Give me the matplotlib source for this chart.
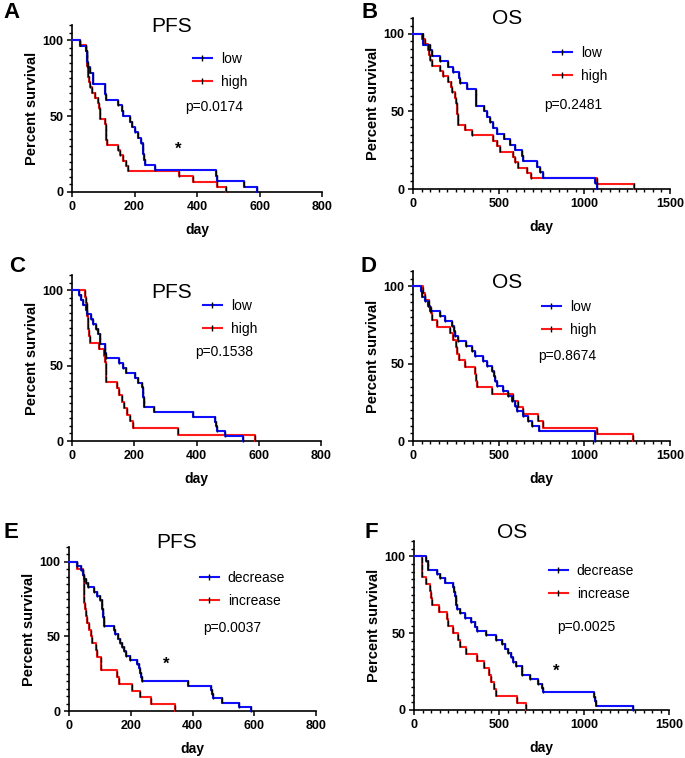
import matplotlib

matplotlib.use("Agg")

import matplotlib.pyplot as plt
from matplotlib.lines import Line2D
from matplotlib.ticker import MultipleLocator

plt.rcParams["font.family"] = ["Liberation Sans", "DejaVu Sans"]

BLUE = "#1010FF"
RED = "#FF1A1A"

# ---- data: event times (day) and survival (%) after each event ----
# A: PFS low / high
a_low_t = [26, 45, 47, 49, 50, 57, 66, 68, 104, 106, 108, 148, 160, 164, 186, 193, 202,
           212, 221, 226, 228, 230, 232, 266, 462, 465, 550, 592]
a_low_s = [96.4, 92.9, 89.3, 85.7, 82.1, 78.6, 75.0, 71.4, 67.9, 64.3, 60.7, 57.1, 53.6,
           50.0, 46.4, 42.9, 39.3, 35.7, 32.1, 28.6, 25.0, 21.4, 17.9, 14.3, 10.7, 7.1, 3.6, 0]
a_high_t = [26, 45, 47, 48, 49, 50, 52, 55, 58, 63, 75, 82, 86, 88, 90, 106, 108, 109, 110,
            112, 146, 155, 164, 172, 180, 342, 386, 464, 493]
a_high_s = [96.6, 93.1, 89.7, 86.2, 82.8, 79.3, 75.9, 72.4, 69.0, 65.5, 62.1, 58.6, 55.2,
            51.7, 48.3, 44.8, 41.4, 37.9, 34.5, 31.0, 27.6, 24.1, 20.7, 17.2, 13.8, 10.3,
            6.9, 3.4, 0]

# B: OS low / high
b_low_t = [60, 61, 99, 109, 158, 206, 235, 270, 274, 313, 365, 367, 368, 414, 430, 449, 469,
           488, 531, 566, 595, 638, 640, 722, 741, 760, 1062, 1072]
b_low_s = [96.4, 92.9, 89.3, 85.7, 82.1, 78.6, 75.0, 71.4, 67.9, 64.3, 60.7, 57.1, 53.6,
           50.0, 46.4, 42.9, 39.3, 35.7, 32.1, 28.6, 25.0, 21.4, 17.9, 14.3, 10.7, 7.1, 3.6, 0]
b_high_t = [50, 70, 89, 96, 99, 109, 158, 177, 206, 220, 226, 245, 250, 255, 259, 262, 265,
            303, 342, 469, 488, 508, 582, 596, 613, 664, 687, 1072, 1292]
b_high_s = [96.6, 93.1, 89.7, 86.2, 82.8, 79.3, 75.9, 72.4, 69.0, 65.5, 62.1, 58.6, 55.2,
            51.7, 48.3, 44.8, 41.4, 37.9, 34.5, 31.0, 27.6, 24.1, 20.7, 17.2, 13.8, 10.3,
            6.9, 3.4, 0]

# C: PFS low / high
c_low_t = [24, 30, 36, 45, 47, 60, 69, 77, 85, 90, 91, 105, 107, 109, 152, 163, 173, 202,
           213, 224, 227, 229, 230, 232, 263, 388, 460, 462, 465, 491, 550]
c_low_s = [96.8, 93.5, 90.3, 87.1, 83.9, 80.6, 77.4, 74.2, 71.0, 67.7, 64.5, 61.3, 58.1,
           54.8, 51.6, 48.4, 45.2, 41.9, 38.7, 35.5, 32.3, 29.0, 25.8, 22.6, 19.4, 16.1,
           12.9, 9.7, 6.5, 3.2, 0]
c_high_t = [42, 45, 47, 48, 50, 52, 55, 58, 87, 103, 106, 108, 109, 110, 143, 152, 160, 168,
            178, 186, 197, 342, 588]
c_high_s = [95.7, 91.3, 87.0, 82.6, 78.3, 73.9, 69.6, 65.2, 60.9, 56.5, 52.2, 47.8, 43.5,
            39.1, 34.8, 30.4, 26.1, 21.7, 17.4, 13.0, 8.7, 4.3, 0]

# D: OS low / high
d_low_t = [45, 51, 70, 89, 99, 158, 187, 226, 240, 245, 265, 309, 342, 362, 410, 430, 459,
           474, 479, 488, 527, 556, 576, 595, 605, 644, 673, 693, 737, 1062, 1065]
d_low_s = [96.8, 93.5, 90.3, 87.1, 83.9, 80.6, 77.4, 74.2, 71.0, 67.7, 64.5, 61.3, 58.1,
           54.8, 51.6, 48.4, 45.2, 41.9, 38.7, 35.5, 32.3, 29.0, 25.8, 22.6, 19.4, 16.1,
           12.9, 9.7, 6.5, 3.2, 0]
d_high_t = [56, 70, 95, 107, 109, 138, 216, 235, 250, 255, 270, 303, 362, 370, 372, 459, 586,
            615, 644, 731, 760, 1072, 1286]
d_high_s = [95.7, 91.3, 87.0, 82.6, 78.3, 73.9, 69.6, 65.2, 60.9, 56.5, 52.2, 47.8, 43.5,
            39.1, 34.8, 30.4, 26.1, 21.7, 17.4, 13.0, 8.7, 4.3, 0]

# E: PFS decrease / increase
e_dec_t = [26, 40, 46, 48, 54, 62, 80, 91, 99, 106, 108, 110, 111, 112, 113, 146, 150, 159,
           166, 172, 177, 186, 197, 221, 226, 229, 232, 235, 386, 460, 462, 465, 494, 551, 591]
e_dec_s = [97.1, 94.3, 91.4, 88.6, 85.7, 82.9, 80.0, 77.1, 74.3, 71.4, 68.6, 65.7, 62.9,
           60.0, 57.1, 54.3, 51.4, 48.6, 45.7, 42.9, 40.0, 37.1, 34.3, 31.4, 28.6, 25.7,
           22.9, 20.0, 17.1, 14.3, 11.4, 8.6, 5.7, 2.9, 0]
e_inc_t = [26, 45, 47, 48, 49, 50, 52, 54, 58, 65, 72, 76, 86, 91, 103, 105, 154, 162, 205,
           229, 267, 343]
e_inc_s = [95.5, 90.9, 86.4, 81.8, 77.3, 72.7, 68.2, 63.6, 59.1, 54.5, 50.0, 45.5, 40.9,
           36.4, 31.8, 27.3, 22.7, 18.2, 13.6, 9.1, 4.5, 0]

# F: OS decrease / increase
f_dec_t = [70, 80, 84, 133, 153, 182, 231, 238, 241, 245, 248, 250, 270, 299, 333, 358, 372,
           423, 481, 515, 534, 554, 573, 583, 599, 636, 638, 681, 730, 750, 759, 1058, 1063,
           1070, 1288]
f_dec_s = [97.1, 94.3, 91.4, 88.6, 85.7, 82.9, 80.0, 77.1, 74.3, 71.4, 68.6, 65.7, 62.9,
           60.0, 57.1, 54.3, 51.4, 48.6, 45.7, 42.9, 40.0, 37.1, 34.3, 31.4, 28.6, 25.7,
           22.9, 20.0, 17.1, 14.3, 11.4, 8.6, 5.7, 2.9, 0]
f_inc_t = [45, 47, 48, 70, 94, 102, 104, 149, 192, 202, 227, 260, 270, 305, 372, 411, 442,
           450, 470, 481, 607, 658]
f_inc_s = [95.5, 90.9, 86.4, 81.8, 77.3, 72.7, 68.2, 63.6, 59.1, 54.5, 50.0, 45.5, 40.9,
           36.4, 31.8, 27.3, 22.7, 18.2, 13.6, 9.1, 4.5, 0]

W, H = 685, 758


def px_axes(fig, left, right, bottom, top):
    """Axes from pixel edges (top-origin)."""
    return fig.add_axes([left / W, (H - bottom) / H, (right - left) / W, (bottom - top) / H])


def km_curve(ax, t, s, color):
    """Step curve with a small black tick on every drop."""
    xs = [0] + t
    ys = [100] + s
    ax.step(xs, ys, where="post", color=color, lw=1.5, clip_on=False, zorder=3)
    mid = [(ys[i] + ys[i + 1]) / 2 for i in range(len(t))]
    ax.plot(t, mid, ls="none", marker="|", ms=4, mew=1.0, color="black", zorder=4,
            clip_on=False)


def setup_axes(ax, xmax, xmajor, xminor):
    ax.set_xlim(0, xmax)
    ax.set_ylim(0, 110)
    ax.spines["top"].set_visible(False)
    ax.spines["right"].set_visible(False)
    for sp in ("left", "bottom"):
        ax.spines[sp].set_linewidth(1.2)
    ax.xaxis.set_major_locator(MultipleLocator(xmajor))
    if xminor:
        ax.xaxis.set_minor_locator(MultipleLocator(xminor))
    ax.yaxis.set_minor_locator(MultipleLocator(5))
    ax.set_yticks([0, 50, 100])
    ax.tick_params(which="major", length=3.8, width=1.1, pad=2.5, labelsize=9)
    ax.tick_params(which="minor", length=2.2, width=1.0)
    for lab in ax.get_xticklabels() + ax.get_yticklabels():
        lab.set_fontweight("bold")
    ax.set_xlabel("day", fontsize=10, fontweight="bold", labelpad=7.5)
    ax.set_ylabel("Percent survival", fontsize=10.5, fontweight="bold", labelpad=2.5)


def add_legend(fig, ax, labels, x, y):
    handles = [
        Line2D([], [], color=BLUE, lw=1.5, marker="|", ms=4, mew=1.0, mec="black"),
        Line2D([], [], color=RED, lw=1.5, marker="|", ms=4, mew=1.0, mec="black"),
    ]
    ax.legend(handles, labels, loc="upper left", bbox_to_anchor=(x / W, 1 - y / H),
              bbox_transform=fig.transFigure, frameon=False, fontsize=10,
              handlelength=1.35, handletextpad=0.65, labelspacing=0.62,
              borderpad=0, borderaxespad=0, markerfirst=True)


fig = plt.figure(figsize=(W / 100, H / 100), dpi=100)

panels = [
    # letter, axes px (l, r, b, t), xmax, major, minor, curves, labels, title, title pos,
    # letter pos, legend pos, p text, p pos, star pos
    ("A", (72, 322, 192, 25), 800, 200, None, (a_low_t, a_low_s), (a_high_t, a_high_s),
     ["low", "high"], "PFS", (172, 27), (11, 12), (193, 52), "p=0.0174", (185, 107),
     (178, 149)),
    ("B", (413, 670, 189, 18), 1500, 500, 50, (b_low_t, b_low_s), (b_high_t, b_high_s),
     ["low", "high"], "OS", (507, 18), (370, 12), (553, 46), "p=0.2481", (544, 105), None),
    ("C", (72, 321, 441, 275), 800, 200, None, (c_low_t, c_low_s), (c_high_t, c_high_s),
     ["low", "high"], "PFS", (172, 292), (17, 267), (203, 299), "p=0.1538", (195, 352), None),
    ("D", (413, 670, 441, 271), 1500, 500, 50, (d_low_t, d_low_s), (d_high_t, d_high_s),
     ["low", "high"], "OS", (507, 283), (369, 267), (542, 300), "p=0.8674", (538, 356), None),
    ("E", (69, 316, 711, 547), 800, 200, None, (e_dec_t, e_dec_s), (e_inc_t, e_inc_s),
     ["decrease", "increase"], "PFS", (177, 542), (11, 532), (200, 571), "p=0.0037",
     (203, 628), (166, 664)),
    ("F", (414, 669, 710, 541), 1500, 500, 50, (f_dec_t, f_dec_s), (f_inc_t, f_inc_s),
     ["decrease", "increase"], "OS", (512, 533), (371, 532), (549, 564), "p=0.0025",
     (557, 627), (556, 671)),
]

for (letter, box, xmax, xmajor, xminor, blue, red, labels, title, tpos, lpos, legpos,
     ptext, ppos, star) in panels:
    ax = px_axes(fig, *box)
    setup_axes(ax, xmax, xmajor, xminor)
    # red first so blue sits on top where they overlap
    km_curve(ax, red[0], red[1], RED)
    km_curve(ax, blue[0], blue[1], BLUE)
    add_legend(fig, ax, labels, *legpos)

    fig.text(tpos[0] / W, 1 - tpos[1] / H, title, fontsize=15, ha="center", va="center")
    fig.text(lpos[0] / W, 1 - lpos[1] / H, letter, fontsize=16, fontweight="bold",
             ha="center", va="center")
    fig.text(ppos[0] / W, 1 - ppos[1] / H, ptext, fontsize=10, ha="left", va="center")
    if star:
        fig.text(star[0] / W, 1 - star[1] / H, "*", fontsize=12, fontweight="bold",
                 ha="center", va="center")

fig.savefig("out.png", dpi=100)
